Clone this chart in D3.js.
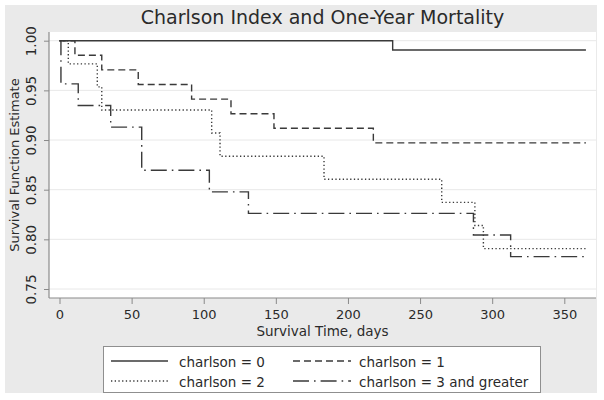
<!DOCTYPE html>
<html>
<head>
<meta charset="utf-8">
<script src="https://cdn.jsdelivr.net/npm/d3@7"></script>
<style>
  html, body { margin: 0; padding: 0; background: #ffffff; }
  svg { display: block; }
  text { font-family: "DejaVu Sans", Verdana, sans-serif; fill: #2a2a2a; }
</style>
</head>
<body>
<svg id="chart" width="604" height="400"></svg>
<script>
// ---------------- data ----------------
const title = "Charlson Index and One-Year Mortality";
const xTitle = "Survival Time, days";
const yTitle = "Survival Function Estimate";
const seriesNames = ["charlson = 0", "charlson = 1", "charlson = 2", "charlson = 3 and greater"];
const endTime = 365;
// event times (days) and survival estimate after each event
const c0Times = [0, 231];
const c0Surv  = [1.0, 0.9906];
const c1Times = [0, 10.7, 29.3, 54.6, 91.6, 118.9, 148.7, 217.6];
const c1Surv  = [1.0, 0.9853, 0.9706, 0.9559, 0.9412, 0.9265, 0.9118, 0.8971];
const c2Times = [0, 6.1, 26.2, 29.3, 105.5, 111.3, 183.4, 265, 288, 293.9];
const c2Surv  = [1.0, 0.9767, 0.9535, 0.9302, 0.9070, 0.8837, 0.8605, 0.8372, 0.8140, 0.7907];
const c3Times = [0, 1, 13, 35.5, 57, 103.9, 131, 287, 312.8];
const c3Surv  = [1.0, 0.9565, 0.9348, 0.9130, 0.8696, 0.8478, 0.8261, 0.8043, 0.7826];
const xTicks = [0, 50, 100, 150, 200, 250, 300, 350];
const yTicks = [0.75, 0.80, 0.85, 0.90, 0.95, 1.00];

// ---------------- layout / style ----------------
const svg = d3.select("#chart");
const plot = { left: 49, right: 596, top: 32, bottom: 298 };
const lineColor = "#3a3a3a";
const dashes = ["none", "7,4", "1.3,2.4", "16,5,1.6,5"];

const x = d3.scaleLinear().domain([0, 350]).range([59.5, 564.3]);
const y = d3.scaleLinear().domain([0.75, 1.0]).range([289, 40.7]);

// outer background
svg.append("rect").attr("x", 5).attr("y", 5).attr("width", 592).attr("height", 388)
  .attr("fill", "#eaeaea");
// plot region
svg.append("rect").attr("x", plot.left).attr("y", plot.top)
  .attr("width", plot.right - plot.left).attr("height", plot.bottom - plot.top)
  .attr("fill", "#ffffff");

// grid lines
svg.append("g").selectAll("line").data(yTicks).join("line")
  .attr("x1", plot.left).attr("x2", plot.right)
  .attr("y1", d => y(d)).attr("y2", d => y(d))
  .attr("stroke", "#e8e8e8").attr("stroke-width", 1);

// curves
const seriesData = [
  [c0Times, c0Surv], [c1Times, c1Surv], [c2Times, c2Surv], [c3Times, c3Surv]
].map(([t, s]) => {
  const pts = t.map((ti, i) => [ti, s[i]]);
  pts.push([endTime, s[s.length - 1]]);
  return pts;
});
const line = d3.line().x(d => x(d[0])).y(d => y(d[1])).curve(d3.curveStepAfter);
svg.append("g").selectAll("path").data(seriesData).join("path")
  .attr("d", line)
  .attr("fill", "none")
  .attr("stroke", lineColor)
  .attr("stroke-width", 1.4)
  .attr("stroke-dasharray", (d, i) => dashes[i]);

// axes
const axisColor = "#8a8a8a";
const yAxis = svg.append("g").attr("transform", `translate(${plot.left},0)`)
  .call(d3.axisLeft(y).tickValues(yTicks).tickSize(5).tickFormat(d3.format(".2f")));
yAxis.select(".domain").remove();
yAxis.selectAll(".tick line").attr("stroke", axisColor);
yAxis.selectAll(".tick text")
  .attr("transform", "rotate(-90)")
  .attr("x", 0).attr("y", -13).attr("dy", 0)
  .attr("text-anchor", "middle")
  .style("font-size", "13.5px").style("font-family", "DejaVu Sans").attr("fill", "#2a2a2a");

const xAxis = svg.append("g").attr("transform", `translate(0,${plot.bottom})`)
  .call(d3.axisBottom(x).tickValues(xTicks).tickSize(6).tickPadding(6));
xAxis.select(".domain").remove();
xAxis.selectAll(".tick line").attr("stroke", axisColor);
xAxis.selectAll(".tick text")
  .style("font-size", "13px").style("font-family", "DejaVu Sans").attr("fill", "#2a2a2a");

// axis lines
svg.append("line").attr("x1", plot.left).attr("x2", plot.left)
  .attr("y1", plot.top).attr("y2", plot.bottom).attr("stroke", axisColor).attr("stroke-width", 1.2);
svg.append("line").attr("x1", plot.left).attr("x2", plot.right)
  .attr("y1", plot.bottom).attr("y2", plot.bottom).attr("stroke", axisColor).attr("stroke-width", 1.2);

// titles
const cx = (plot.left + plot.right) / 2;
svg.append("text").attr("x", cx).attr("y", 24).attr("text-anchor", "middle")
  .style("font-size", "19px").text(title);
svg.append("text").attr("x", cx).attr("y", 336).attr("text-anchor", "middle")
  .style("font-size", "13.5px").text(xTitle);
svg.append("text")
  .attr("transform", `translate(19,${(plot.top + plot.bottom) / 2}) rotate(-90)`)
  .attr("text-anchor", "middle")
  .style("font-size", "13px").text(yTitle);

// legend
const lg = svg.append("g");
lg.append("rect").attr("x", 103.5).attr("y", 346.5).attr("width", 437).attr("height", 46)
  .attr("fill", "#ffffff").attr("stroke", "#8f8f8f").attr("stroke-width", 1);
const legPos = [
  { sx: 111, ex: 168, tx: 179, ly: 361 },
  { sx: 293, ex: 351, tx: 359, ly: 361 },
  { sx: 111, ex: 168, tx: 179, ly: 381 },
  { sx: 293, ex: 351, tx: 359, ly: 381 }
];
seriesNames.forEach((name, i) => {
  const p = legPos[i];
  lg.append("line").attr("x1", p.sx).attr("x2", p.ex).attr("y1", p.ly).attr("y2", p.ly)
    .attr("stroke", lineColor).attr("stroke-width", 1.4).attr("stroke-dasharray", dashes[i]);
  lg.append("text").attr("x", p.tx).attr("y", p.ly + 5.5)
    .style("font-size", "13.5px").text(name);
});
</script>
</body>
</html>
